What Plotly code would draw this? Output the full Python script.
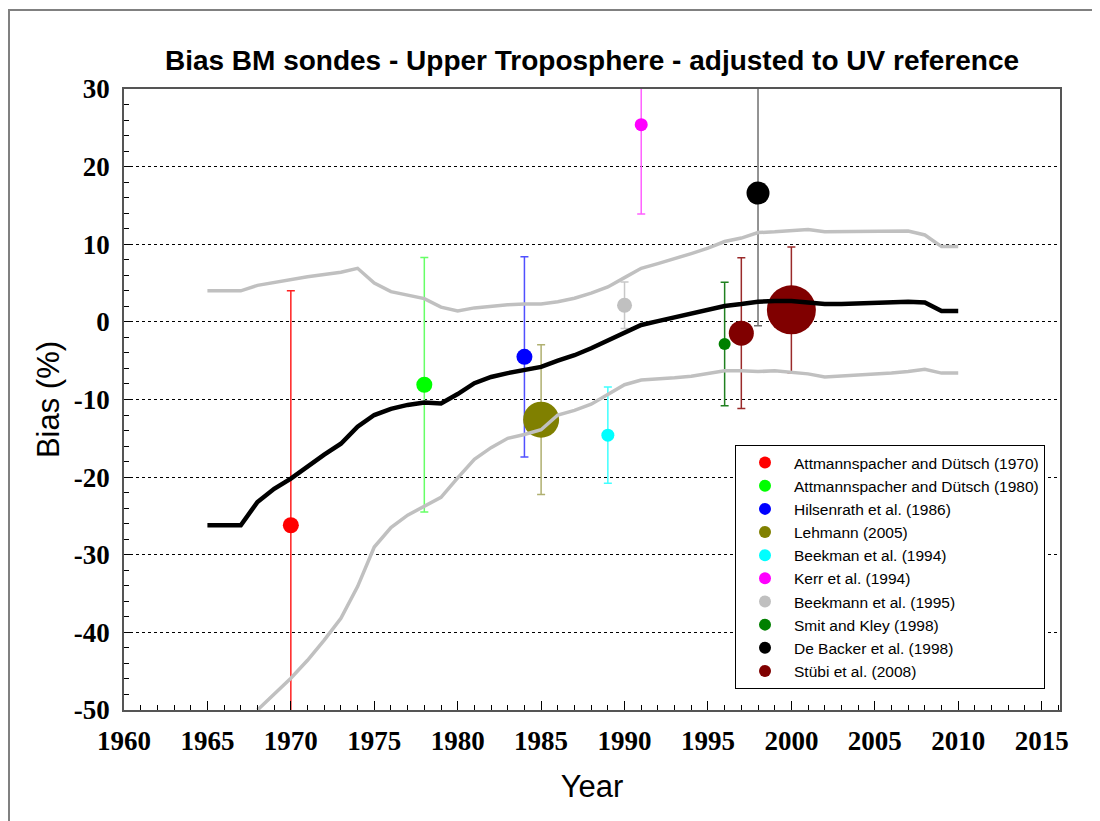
import plotly.graph_objects as go

# ---- data ----
years_line = list(range(1965, 2011))
mean_bias = [-26.2, -26.2, -26.2, -23.2, -21.5, -20.2, -18.6, -17.1, -15.7, -13.5,
             -12.0, -11.2, -10.7, -10.4, -10.5, -9.3, -7.9, -7.1, -6.6, -6.2,
             -5.8, -5.0, -4.3, -3.4, -2.4, -1.4, -0.4, 0.1, 0.6, 1.1,
             1.6, 2.05, 2.3, 2.6, 2.7, 2.7, 2.5, 2.3, 2.3, 2.35,
             2.4, 2.5, 2.6, 2.5, 1.4, 1.4]
upper_bias = [4.0, 4.0, 4.0, 4.7, 5.1, 5.4, 5.8, 6.1, 6.4, 6.9,
              5.0, 3.9, 3.4, 3.0, 1.9, 1.4, 1.8, 2.05, 2.2, 2.3,
              2.3, 2.6, 3.05, 3.7, 4.5, 5.7, 6.9, 7.5, 8.1, 8.8,
              9.5, 10.35, 10.8, 11.5, 11.6, 11.8, 11.9, 11.6, 11.6, 11.6,
              11.6, 11.65, 11.7, 11.2, 9.7, 9.7]
years_lower = list(range(1968, 2011))
lower_bias = [-50.0, -48.0, -45.9, -43.6, -41.0, -38.2, -34.1, -29.0, -26.5, -24.9,
              -23.8, -22.6, -20.1, -17.7, -16.2, -15.0, -14.5, -13.9, -12.0, -11.4,
              -10.6, -9.4, -8.1, -7.5, -7.4, -7.2, -7.0, -6.7, -6.3, -6.3,
              -6.4, -6.3, -6.5, -6.7, -7.1, -7.0, -6.9, -6.8, -6.6, -6.4,
              -6.1, -6.6, -6.6]

studies = ["Attmannspacher and Dütsch (1970)", "Attmannspacher and Dütsch (1980)",
           "Hilsenrath et al. (1986)", "Lehmann (2005)", "Beekman et al. (1994)",
           "Kerr et al. (1994)", "Beekmann et al. (1995)", "Smit and Kley (1998)",
           "De Backer et al. (1998)", "Stübi et al. (2008)"]
study_years = [[1970], [1978], [1984], [1985], [1989], [1991], [1990], [1996], [1998], [1997, 2000]]
study_bias = [[-26.2], [-8.1], [-4.5], [-12.6], [-14.6], [25.4], [2.15], [-2.85], [16.6], [-1.45, 1.55]]
study_err = [[30.2], [16.4], [12.9], [9.65], [6.2], [11.5], [3.0], [7.95], [17.1], [9.7, 8.1]]
study_size = [[16], [16], [16], [36], [13], [13], [15], [12], [23], [25, 49]]
marker_colors = ["#ff0000", "#00ff00", "#0000ff", "#808000", "#00ffff", "#ff00ff",
                 "#c0c0c0", "#008000", "#000000", "#800000"]
err_colors = ["#ff2020", "#66ff66", "#5050ff", "#b0b070", "#40ffff", "#ff60ff",
              "#c8c8c8", "#208020", "#707070", "#9a2a2a"]

y_tickvals = [-50, -40, -30, -20, -10, 0, 10, 20, 30]
y_ticktext = ["-50", "-40", "-30", "-20", "-10", "0", "10", "20", "30"]

fig = go.Figure()

for i, name in enumerate(studies):
    fig.add_trace(go.Scatter(
        x=study_years[i], y=study_bias[i], mode="markers", name=name,
        legendgroup=f"g{i}",
        marker=dict(color=marker_colors[i], size=study_size[i], opacity=1, line=dict(width=0)),
        error_y=dict(type="data", array=study_err[i], symmetric=True,
                     color=err_colors[i], thickness=1.5, width=4),
    ))

fig.add_trace(go.Scatter(x=years_line, y=upper_bias, mode="lines", showlegend=False,
                         line=dict(color="#c0c0c0", width=3.5)))
fig.add_trace(go.Scatter(x=years_lower, y=lower_bias, mode="lines", showlegend=False,
                         line=dict(color="#c0c0c0", width=3.5)))
fig.add_trace(go.Scatter(x=years_line, y=mean_bias, mode="lines", showlegend=False,
                         line=dict(color="#000000", width=4.5)))

tickfont = dict(family="Liberation Serif", size=27, color="black", weight="bold")

L, R, T, B = 116, 1052, 81, 702  # plot area in figure pixels
PW, PH = R - L, B - T

fig.update_layout(
    width=1100, height=821,
    margin=dict(l=L, r=1100 - R, t=T, b=821 - B),
    paper_bgcolor="white", plot_bgcolor="white",
    title=dict(text="Bias BM sondes - Upper Troposphere - adjusted to UV reference",
               font=dict(family="Liberation Sans", size=28, color="black", weight="bold"),
               x=0.5, xref="paper", y=1 - 52 / 821, yref="container",
               xanchor="center", yanchor="middle"),
    showlegend=True,
    legend=dict(x=(727 - L) / PW, y=(B - 437) / PH, xanchor="left", yanchor="top",
                bgcolor="white", bordercolor="black", borderwidth=1,
                font=dict(family="Liberation Sans", size=15.5, color="black"),
                itemsizing="constant", tracegroupgap=0, itemwidth=48),
    xaxis=dict(range=[1960, 2016.1], tick0=1960, dtick=5, ticks="inside", ticklen=9,
               tickwidth=1, tickcolor="black", tickfont=tickfont, ticklabelstandoff=6,
               minor=dict(dtick=1, ticks="inside", ticklen=5, tickcolor="black", showgrid=False),
               showline=True, linecolor="#555555", linewidth=1.5, mirror=True,
               showgrid=False, zeroline=False,
               title=dict(text="Year", font=dict(family="Liberation Sans", size=31, color="black"),
                          standoff=20)),
    yaxis=dict(range=[-50, 30], tickvals=y_tickvals, ticktext=y_ticktext,
               ticks="inside", ticklen=8, tickwidth=1,
               tickcolor="black", tickfont=tickfont, ticklabelstandoff=7,
               minor=dict(dtick=2, ticks="inside", ticklen=5, tickcolor="black", showgrid=False),
               showline=True, linecolor="#555555", linewidth=1.5, mirror=True,
               showgrid=True, gridcolor="black", griddash="dot", gridwidth=1, zeroline=False,
               title=dict(text="Bias (%)", font=dict(family="Liberation Sans", size=31, color="black"),
                          standoff=5)),
    shapes=[dict(type="rect", xref="paper", yref="paper",
                 x0=(1 - L) / PW, x1=(1110 - L) / PW,
                 y0=(B - 835) / PH, y1=(B - 2) / PH,
                 line=dict(color="#808080", width=2), fillcolor="rgba(0,0,0,0)", layer="below")],
)

fig.write_html("out.html")
